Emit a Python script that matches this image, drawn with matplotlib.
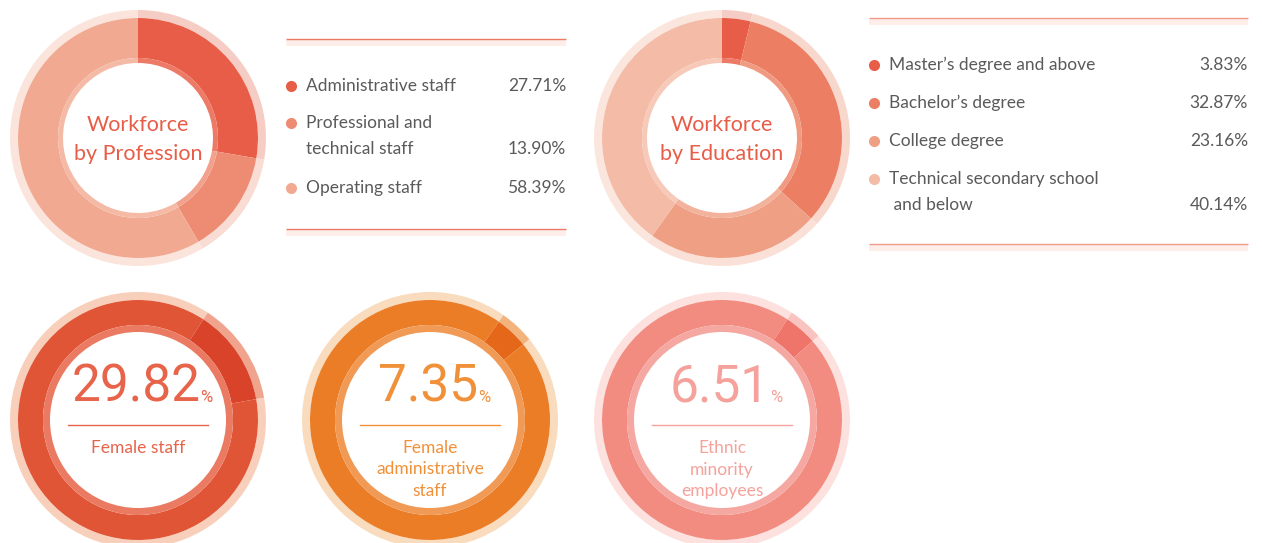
import numpy as np
import matplotlib
matplotlib.use("Agg")
import matplotlib.pyplot as plt
from matplotlib.offsetbox import TextArea, HPacker, AnnotationBbox

# ---- data ----
profession_labels = ["Administrative staff", "Professional and\ntechnical staff", "Operating staff"]
profession_values = [27.71, 13.90, 58.39]

education_labels = ["Master\u2019s degree and above", "Bachelor\u2019s degree", "College degree",
                    "Technical secondary school\n and below"]
education_values = [3.83, 32.87, 23.16, 40.14]

ratio_labels = ["Female staff", "Female\nadministrative\nstaff", "Ethnic\nminority\nemployees"]
ratio_values = [29.82, 7.35, 6.51]

# ---- style ----
W, H = 1262, 543
TEXT_FONT = ["Lato", "DejaVu Sans"]
NUM_FONT = ["Roboto", "DejaVu Sans"]
GREY = "#5a5a5a"

prof_colors = ["#e85d47", "#ee8c73", "#f1aa91"]
prof_halo = ["#f6cdc5", "#f9ddd4", "#fbe4dc"]
prof_band = ["#ec7a66", "#f2a28c", "#f4baa5"]

edu_colors = ["#e85d47", "#ec7f63", "#efa084", "#f4bba7"]
edu_halo = ["#f6cdc5", "#f8d8cd", "#fae0d6", "#fbe6de"]
edu_band = ["#ec7a66", "#f09a82", "#f2b29c", "#f6c9b9"]

ring_main = ["#e05536", "#eb7d27", "#f28b80"]
ring_accent = ["#d9432a", "#e5671a", "#ef7469"]
ring_halo = ["#f8cfbb", "#f9dbbd", "#fde1de"]
ring_halo_accent = ["#f0a48e", "#f3b37c", "#f9c4bf"]
ring_band = ["#ea7a62", "#f09a55", "#f5a8a1"]
ring_text = ["#e7644b", "#f0913a", "#f4a29b"]
accent_start = [33, 35, 33]   # decorative accent arc (degrees clockwise from top)
accent_span = [47, 16, 16]


def Y(y):
    return H - y


fig = plt.figure(figsize=(W / 100, H / 100), dpi=100)
ax = fig.add_axes([0, 0, 1, 1])


def pie(ax, fracs, colors, cx, cy, r, width):
    ax.pie(fracs, colors=colors, center=(cx, Y(cy)), radius=r, startangle=90,
           counterclock=False, frame=True, normalize=True,
           wedgeprops=dict(width=width, linewidth=0))


def big_donut(ax, values, colors, halo, band, cx, cy, title):
    pie(ax, values, halo, cx, cy, 128, 8)
    pie(ax, values, colors, cx, cy, 120, 40)
    pie(ax, values, band, cx, cy, 80, 5)
    for k, line in enumerate(title.split("\n")):
        ax.text(cx, Y(cy - 13 + 29 * k), line, ha="center", va="center", fontsize=15.5,
                color="#e85d47", family=TEXT_FONT)


def legend(ax, labels, values, colors, x0, x1, ytop, ybot, rows, line_color):
    for y in (ytop, ybot):
        ax.plot([x0, x1], [Y(y), Y(y)], color=line_color, lw=1.0, solid_capstyle="butt")
        ax.fill_between([x0, x1], Y(y + 0.6), Y(y + 7), color="#fdeeea", lw=0)
    for lab, val, col, (yl, yv) in zip(labels, values, colors, rows):
        ax.plot(x0 + 5, Y(yl), "o", ms=8, color=col, mec="none")
        lines = lab.split("\n")
        ys = [yl, yv] if len(lines) > 1 else [yl]
        for line, y in zip(lines, ys):
            ax.text(x0 + 20, Y(y), line, ha="left", va="center",
                    fontsize=12.5, color=GREY, family=TEXT_FONT)
        ax.text(x1, Y(yv), "{:.2f}%".format(val), ha="right", va="center",
                fontsize=12.5, color=GREY, family=TEXT_FONT)


big_donut(ax, profession_values, prof_colors, prof_halo, prof_band, 138, 138,
          "Workforce\nby Profession")
big_donut(ax, education_values, edu_colors, edu_halo, edu_band, 722, 138,
          "Workforce\nby Education")

prof_rows = [(86, 86), (123, 149), (188, 188)]
edu_rows = [(65, 65), (103, 103), (141, 141), (179, 205)]

legend(ax, profession_labels, profession_values, prof_colors, 286, 566, 39, 229,
       prof_rows, "#ec7a67")
legend(ax, education_labels, education_values, edu_colors, 869, 1248, 18, 244,
       edu_rows, "#f29a88")

# ---- ratio rings ----
ring_cx = [138, 430, 722]
ring_cy = 420
for i, (val, lab) in enumerate(zip(ratio_values, ratio_labels)):
    cx = ring_cx[i]
    a0, sp = accent_start[i], accent_span[i]
    fr = [a0, sp, 360 - a0 - sp]
    pie(ax, fr, [ring_halo[i], ring_halo_accent[i], ring_halo[i]], cx, ring_cy, 128, 8)
    pie(ax, fr, [ring_main[i], ring_accent[i], ring_main[i]], cx, ring_cy, 120, 25)
    pie(ax, [1], [ring_band[i]], cx, ring_cy, 95, 7)

    num = TextArea("{:.2f}".format(val), textprops=dict(fontsize=37, color=ring_text[i],
                                                           family=NUM_FONT))
    pct = TextArea("%", textprops=dict(fontsize=12, color=ring_text[i], family=NUM_FONT))
    box = HPacker(children=[num, pct], align="baseline", pad=0, sep=0)
    ab = AnnotationBbox(box, (cx + 4, Y(388)), frameon=False, box_alignment=(0.5, 0.5))
    ax.add_artist(ab)
    ax.plot([cx - 70, cx + 70], [Y(425), Y(425)], color=ring_text[i], lw=1)
    for k, line in enumerate(lab.split("\n")):
        ax.text(cx, Y(448 + 21.5 * k), line, ha="center", va="center", fontsize=12.5,
                color=ring_text[i], family=TEXT_FONT)

ax.set_xlim(0, W)
ax.set_ylim(0, H)
ax.set_aspect("auto")
ax.axis("off")
fig.savefig("out.png", dpi=100)
